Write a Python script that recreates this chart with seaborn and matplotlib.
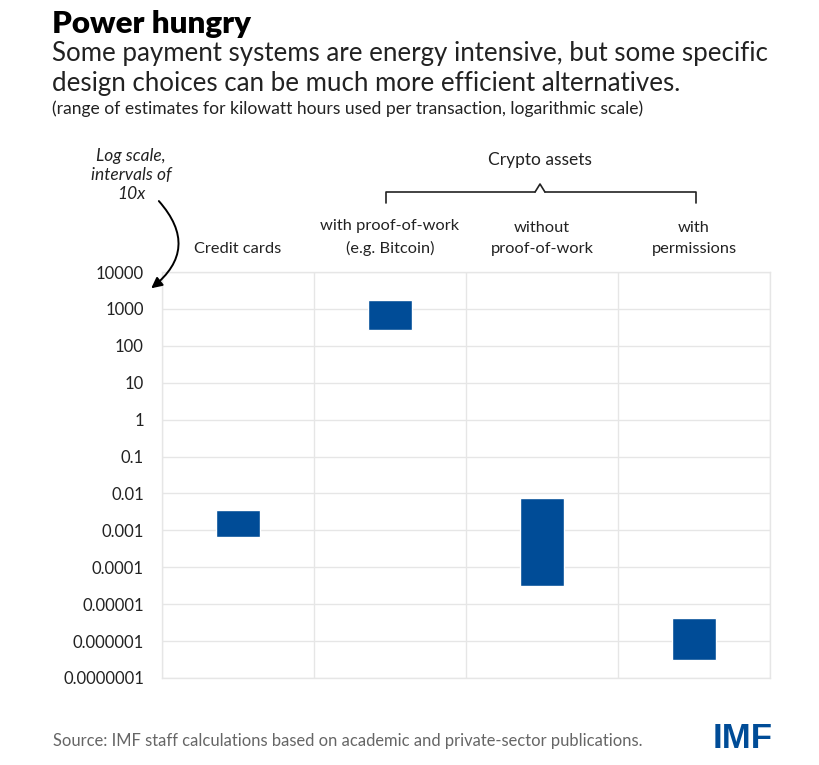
import numpy as np
import pandas as pd
import matplotlib
matplotlib.use("Agg")
import matplotlib.pyplot as plt
import seaborn as sns

# data: ranges of kWh per transaction
categories = ["Credit cards", "with proof-of-work\n(e.g. Bitcoin)", "without\nproof-of-work", "with\npermissions"]
low_kwh = [0.00066, 270, 0.000031, 0.00000031]
high_kwh = [0.0035, 1750, 0.0075, 0.0000042]
tick_values = [1e4, 1e3, 1e2, 1e1, 1, 0.1, 0.01, 0.001, 0.0001, 0.00001, 0.000001, 0.0000001]
tick_labels = ["10000", "1000", "100", "10", "1", "0.1", "0.01", "0.001", "0.0001",
               "0.00001", "0.000001", "0.0000001"]

df = pd.DataFrame({"category": categories, "low": low_kwh, "high": high_kwh})

sns.set_theme(style="white")
plt.rcParams["font.family"] = ["Lato", "DejaVu Sans"]

W, H = 820, 765
fig = plt.figure(figsize=(W / 100, H / 100), dpi=100)

def fx(x):
    return x / W

def fy(y):
    return 1 - y / H

ax = fig.add_axes([fx(162), fy(678), fx(770) - fx(162), fy(272) - fy(678)])

blue = "#004c97"
grid = "#e6e6e6"
ink = "#222222"

xpos = np.arange(len(df))
ax.bar(xpos, df["high"] - df["low"], bottom=df["low"], width=0.285, color=blue, zorder=3)

ax.set_yscale("log")
ax.set_ylim(1e-7, 1e4)
ax.set_xlim(-0.5, len(df) - 0.5)
ax.set_yticks(tick_values)
ax.set_yticklabels(tick_labels)
ax.yaxis.set_minor_locator(matplotlib.ticker.NullLocator())
ax.set_xticks([])
ax.set_xticks(np.arange(-0.5, len(df)), minor=True)
ax.tick_params(axis="x", which="both", length=0)
ax.tick_params(axis="y", length=0, labelsize=12, pad=13, labelcolor=ink)
ax.grid(True, axis="y", color=grid, lw=1, zorder=0)
ax.grid(True, axis="x", which="minor", color=grid, lw=1, zorder=0)
for s in ax.spines.values():
    s.set_color(grid)
    s.set_linewidth(1)

# category headers above the plot
for i, cat in enumerate(categories):
    xc = ax.transData.transform((i, 1))[0]
    fig.text(xc / W, fy(256), cat, ha="center", va="bottom", fontsize=11.8,
             color=ink, linespacing=1.65)

# brace over the crypto columns
fig.text(fx(540), fy(160), "Crypto assets", ha="center", va="center", fontsize=12.5, color=ink)
bx0, bx1, bmid = fx(386), fx(696), fx(540)
by, bdown, bup = fy(192), fy(203), fy(184)
fig.add_artist(plt.Line2D([bx0, bx0, bmid - 0.006], [bdown, by, by], color=ink, lw=1.2,
                          transform=fig.transFigure))
fig.add_artist(plt.Line2D([bmid + 0.006, bx1, bx1], [by, by, bdown], color=ink, lw=1.2,
                          transform=fig.transFigure))
fig.add_artist(plt.Line2D([bmid - 0.006, bmid, bmid + 0.006], [by, bup, by], color=ink, lw=1.2,
                          transform=fig.transFigure))

# log-scale note with curved arrow
fig.text(fx(131), fy(175), "Log scale,\nintervals of\n10x", ha="center", va="center",
         fontsize=12.5, style="italic", color=ink, linespacing=1.2)
ax.annotate("", xy=(fx(149), fy(290)), xycoords="figure fraction",
            xytext=(fx(157), fy(199)), textcoords="figure fraction",
            arrowprops=dict(arrowstyle="-|>", color="black", lw=1.4,
                            connectionstyle="arc3,rad=-0.55", mutation_scale=16))

# titles
fig.text(fx(52), fy(24), "Power hungry", ha="left", va="center", fontsize=22.5,
         fontweight="heavy", color="black")
fig.text(fx(52), fy(53), "Some payment systems are energy intensive, but some specific",
         ha="left", va="center", fontsize=18.6, color=ink)
fig.text(fx(52), fy(84), "design choices can be much more efficient alternatives.",
         ha="left", va="center", fontsize=18.6, color=ink)
fig.text(fx(52), fy(109), "(range of estimates for kilowatt hours used per transaction, logarithmic scale)",
         ha="left", va="center", fontsize=12.6, color=ink)

# footer
fig.text(fx(53), fy(741), "Source: IMF staff calculations based on academic and private-sector publications.",
         ha="left", va="center", fontsize=11.9, color="#666666")
fig.text(fx(773), fy(738), "IMF", ha="right", va="center", fontsize=25, fontweight="bold",
         color=blue, family=["Liberation Sans", "DejaVu Sans"])

fig.savefig("out.png", dpi=100)
